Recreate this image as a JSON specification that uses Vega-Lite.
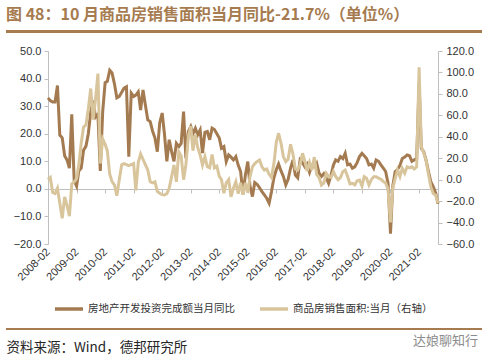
{
  "$schema": "https://vega.github.io/schema/vega-lite/v6.json",
  "width": 390,
  "height": 193,
  "autosize": {"type": "none"},
  "padding": {"left": 48, "top": 51, "right": 52, "bottom": 118},
  "background": "white",
  "title": {
    "text": "图 48：10 月商品房销售面积当月同比-21.7%（单位%）",
    "anchor": "start", "frame": "group", "dx": -42, "offset": 8,
    "font": "Noto Sans CJK SC", "fontSize": 16, "fontWeight": "bold", "color": "#A67B4F"
  },
  "config": {"view": {"stroke": null}, "font": "Liberation Sans"},
  "data": {"values": [
    {"d":"2008-02","a":33,"b":0},{"d":"2008-03","a":32,"b":2},{"d":"2008-04","a":31.5,"b":-12},{"d":"2008-05","a":31.5,"b":-13},
    {"d":"2008-06","a":37.5,"b":-8},{"d":"2008-07","a":19.5,"b":-22},{"d":"2008-08","a":18.5,"b":-36},{"d":"2008-09","a":12,"b":-16},
    {"d":"2008-10","a":10.5,"b":-24},{"d":"2008-11","a":7.5,"b":-34},{"d":"2008-12","a":27,"b":-4},
    {"d":"2009-01","a":3,"b":-2},{"d":"2009-02","a":1,"b":1},{"d":"2009-03","a":6.5,"b":14},{"d":"2009-04","a":7.5,"b":34},
    {"d":"2009-05","a":14,"b":49},{"d":"2009-06","a":15.5,"b":51},{"d":"2009-07","a":20,"b":66},{"d":"2009-08","a":28,"b":85},
    {"d":"2009-09","a":32,"b":56},{"d":"2009-10","a":26,"b":75},{"d":"2009-11","a":27,"b":99},{"d":"2009-12","a":6.5,"b":15},
    {"d":"2010-01","a":28,"b":38},{"d":"2010-02","a":38.5,"b":33},{"d":"2010-03","a":39,"b":27},{"d":"2010-04","a":43,"b":5},
    {"d":"2010-05","a":42,"b":-1.8},{"d":"2010-06","a":38,"b":-5},{"d":"2010-07","a":33,"b":-15},{"d":"2010-08","a":33.5,"b":0},
    {"d":"2010-09","a":35,"b":14},{"d":"2010-10","a":36.5,"b":15},{"d":"2010-11","a":37,"b":14},{"d":"2010-12","a":11.7,"b":13},
    {"d":"2011-01","a":34.7,"b":14},{"d":"2011-02","a":33.5,"b":15},{"d":"2011-03","a":34,"b":-10},{"d":"2011-04","a":35.2,"b":16},
    {"d":"2011-05","a":28.6,"b":24},{"d":"2011-06","a":35.9,"b":19},{"d":"2011-07","a":30.4,"b":14},{"d":"2011-08","a":25,"b":9},
    {"d":"2011-09","a":24.4,"b":-2},{"d":"2011-10","a":21,"b":-3},{"d":"2011-11","a":18.4,"b":-2},{"d":"2011-12","a":13.5,"b":-11},
    {"d":"2012-01","a":24,"b":-12.7},{"d":"2012-02","a":27.5,"b":-14},{"d":"2012-03","a":20,"b":-14.3},{"d":"2012-04","a":10,"b":-13},
    {"d":"2012-05","a":17.8,"b":-8},{"d":"2012-06","a":13.5,"b":2.8},{"d":"2012-07","a":10,"b":13.7},{"d":"2012-08","a":16.5,"b":-2},
    {"d":"2012-09","a":15.3,"b":26},{"d":"2012-10","a":16.5,"b":22},{"d":"2012-11","a":28,"b":0},{"d":"2012-12","a":11,"b":14},
    {"d":"2013-01","a":20.8,"b":40},{"d":"2013-02","a":22.6,"b":50},{"d":"2013-03","a":20,"b":27},{"d":"2013-04","a":22,"b":42},
    {"d":"2013-05","a":19.6,"b":30},{"d":"2013-06","a":21.4,"b":23},{"d":"2013-07","a":13,"b":13.7},{"d":"2013-08","a":20.5,"b":21.5},
    {"d":"2013-09","a":20.8,"b":12},{"d":"2013-10","a":17.8,"b":11},{"d":"2013-11","a":22,"b":23.5},{"d":"2013-12","a":21.5,"b":11},
    {"d":"2014-01","a":20,"b":12.5},{"d":"2014-02","a":18.4,"b":3},{"d":"2014-03","a":14.7,"b":0},{"d":"2014-04","a":15.3,"b":-12.7},
    {"d":"2014-05","a":9.9,"b":-3},{"d":"2014-06","a":12.3,"b":0},{"d":"2014-07","a":11.5,"b":-15.9},{"d":"2014-08","a":10.5,"b":-8},
    {"d":"2014-09","a":11.7,"b":-2},{"d":"2014-10","a":8.6,"b":-13},{"d":"2014-11","a":6.3,"b":-3},{"d":"2014-12","a":-2,"b":-14},
    {"d":"2015-01","a":5,"b":-3},{"d":"2015-02","a":9.9,"b":-12},{"d":"2015-03","a":1,"b":2.8},{"d":"2015-04","a":-2.8,"b":12},
    {"d":"2015-05","a":2.3,"b":15},{"d":"2015-06","a":1.6,"b":17},{"d":"2015-07","a":0.4,"b":18.4},{"d":"2015-08","a":-1,"b":12},
    {"d":"2015-09","a":-2.2,"b":9},{"d":"2015-10","a":-3.4,"b":10},{"d":"2015-11","a":-5.2,"b":5},{"d":"2015-12","a":-1,"b":2},
    {"d":"2016-01","a":4,"b":15},{"d":"2016-02","a":7,"b":35},{"d":"2016-03","a":9,"b":43.3},{"d":"2016-04","a":6.5,"b":34},
    {"d":"2016-05","a":4.5,"b":21.5},{"d":"2016-06","a":1.4,"b":16.8},{"d":"2016-07","a":3.5,"b":19},{"d":"2016-08","a":7.5,"b":33},
    {"d":"2016-09","a":10.5,"b":24},{"d":"2016-10","a":5,"b":10},{"d":"2016-11","a":4,"b":9},{"d":"2016-12","a":10.5,"b":14},
    {"d":"2017-01","a":9.5,"b":24.6},{"d":"2017-02","a":8,"b":17},{"d":"2017-03","a":9,"b":8},{"d":"2017-04","a":6,"b":16},
    {"d":"2017-05","a":8.5,"b":9},{"d":"2017-06","a":8,"b":21},{"d":"2017-07","a":9.3,"b":5},{"d":"2017-08","a":5.7,"b":2},
    {"d":"2017-09","a":4.5,"b":-5},{"d":"2017-10","a":5.5,"b":-3},{"d":"2017-11","a":4,"b":6},{"d":"2017-12","a":2,"b":3},
    {"d":"2018-01","a":5,"b":2},{"d":"2018-02","a":8.7,"b":7.5},{"d":"2018-03","a":10.5,"b":3},{"d":"2018-04","a":10,"b":0},
    {"d":"2018-05","a":11.7,"b":2},{"d":"2018-06","a":11,"b":7.5},{"d":"2018-07","a":12.9,"b":9},{"d":"2018-08","a":8.7,"b":3},
    {"d":"2018-09","a":9,"b":-4},{"d":"2018-10","a":7.5,"b":-3.4},{"d":"2018-11","a":8,"b":-4.8},{"d":"2018-12","a":9.5,"b":-1},
    {"d":"2019-01","a":11.7,"b":-0.3},{"d":"2019-02","a":12.9,"b":-6},{"d":"2019-03","a":12,"b":2.8},{"d":"2019-04","a":11,"b":1.3},
    {"d":"2019-05","a":8.7,"b":-5},{"d":"2019-06","a":9,"b":0},{"d":"2019-07","a":7.5,"b":2.8},{"d":"2019-08","a":10.5,"b":2.8},
    {"d":"2019-09","a":10,"b":1.5},{"d":"2019-10","a":8.7,"b":0.5},{"d":"2019-11","a":7.5,"b":-1.8},{"d":"2019-12","a":6.3,"b":-3},
    {"d":"2020-01","a":2,"b":-9},{"d":"2020-02","a":-16.3,"b":-39.9},{"d":"2020-03","a":1,"b":-8},{"d":"2020-04","a":6.3,"b":1},
    {"d":"2020-05","a":7,"b":9},{"d":"2020-06","a":8.5,"b":3},{"d":"2020-07","a":11,"b":10.6},{"d":"2020-08","a":11.5,"b":6},
    {"d":"2020-09","a":12.3,"b":12},{"d":"2020-10","a":12,"b":11},{"d":"2020-11","a":10,"b":12},{"d":"2020-12","a":10.5,"b":10},
    {"d":"2021-01","a":11,"b":12},{"d":"2021-02","a":38.3,"b":104.9},{"d":"2021-03","a":14.7,"b":31},{"d":"2021-04","a":13.5,"b":25},
    {"d":"2021-05","a":10.4,"b":18},{"d":"2021-06","a":6.3,"b":5},{"d":"2021-07","a":2.6,"b":-6.5},{"d":"2021-08","a":0.8,"b":-13},
    {"d":"2021-09","a":-1.5,"b":-14.5},{"d":"2021-10","a":-5.4,"b":-21.7}
  ]},
  "layer": [
    {
      "mark": {"type": "line", "strokeWidth": 3, "interpolate": "linear"},
      "encoding": {
        "x": {
          "field": "d", "type": "temporal",
          "scale": {"type": "utc", "nice": false, "domain": [{"year": 2008, "month": 2, "date": 1, "utc": true}, {"year": 2021, "month": 10, "date": 1, "utc": true}]},
          "axis": {
            "orient": "bottom", "offset": -55, "labels": false, "title": null, "grid": false,
            "domain": true, "domainColor": "#BFBFBF", "domainWidth": 1,
            "ticks": true, "tickColor": "#BFBFBF", "tickSize": 4,
            "values": [
              {"year": 2008, "month": 2, "date": 1, "utc": true}, {"year": 2009, "month": 2, "date": 1, "utc": true},
              {"year": 2010, "month": 2, "date": 1, "utc": true}, {"year": 2011, "month": 2, "date": 1, "utc": true},
              {"year": 2012, "month": 2, "date": 1, "utc": true}, {"year": 2013, "month": 2, "date": 1, "utc": true},
              {"year": 2014, "month": 2, "date": 1, "utc": true}, {"year": 2015, "month": 2, "date": 1, "utc": true},
              {"year": 2016, "month": 2, "date": 1, "utc": true}, {"year": 2017, "month": 2, "date": 1, "utc": true},
              {"year": 2018, "month": 2, "date": 1, "utc": true}, {"year": 2019, "month": 2, "date": 1, "utc": true},
              {"year": 2020, "month": 2, "date": 1, "utc": true}, {"year": 2021, "month": 2, "date": 1, "utc": true}
            ]
          }
        },
        "y": {
          "field": "a", "type": "quantitative",
          "scale": {"domain": [-20, 50], "nice": false, "zero": false},
          "axis": {
            "orient": "left", "values": [-20, -10, 0, 10, 20, 30, 40, 50], "format": ".1f", "title": null, "grid": false,
            "labelOverlap": false,
            "domainColor": "#BFBFBF", "tickColor": "#BFBFBF", "tickSize": 4,
            "labelFont": "Liberation Sans", "labelFontSize": 11, "labelColor": "#333333", "labelPadding": 3
          }
        },
        "color": {
          "datum": "房地产开发投资完成额当月同比", "type": "nominal",
          "scale": {"domain": ["房地产开发投资完成额当月同比", "商品房销售面积:当月（右轴）"], "range": ["#A47B50", "#D9C59C"]},
          "legend": {
            "orient": "none", "legendX": 5, "legendY": 242, "direction": "horizontal", "title": null,
            "symbolType": "stroke", "symbolSize": 784, "symbolStrokeWidth": 3.5,
            "labelFont": "Noto Sans CJK SC", "labelFontSize": 10.5, "labelColor": "#333333",
            "labelOffset": 3, "columnPadding": 18, "padding": 0
          }
        }
      }
    },
    {
      "mark": {"type": "line", "strokeWidth": 3, "interpolate": "linear"},
      "encoding": {
        "x": {
          "field": "d", "type": "temporal",
          "axis": {
            "orient": "bottom", "offset": 0, "domain": false, "ticks": false, "grid": false,
            "labelAngle": -45, "labelAlign": "right", "labelBaseline": "middle", "labelPadding": 6,
            "format": "%Y-%m", "labelFont": "Liberation Sans", "labelFontSize": 11, "labelColor": "#333333",
            "labelOverlap": false,
            "values": [
              {"year": 2008, "month": 2, "date": 1, "utc": true}, {"year": 2009, "month": 2, "date": 1, "utc": true},
              {"year": 2010, "month": 2, "date": 1, "utc": true}, {"year": 2011, "month": 2, "date": 1, "utc": true},
              {"year": 2012, "month": 2, "date": 1, "utc": true}, {"year": 2013, "month": 2, "date": 1, "utc": true},
              {"year": 2014, "month": 2, "date": 1, "utc": true}, {"year": 2015, "month": 2, "date": 1, "utc": true},
              {"year": 2016, "month": 2, "date": 1, "utc": true}, {"year": 2017, "month": 2, "date": 1, "utc": true},
              {"year": 2018, "month": 2, "date": 1, "utc": true}, {"year": 2019, "month": 2, "date": 1, "utc": true},
              {"year": 2020, "month": 2, "date": 1, "utc": true}, {"year": 2021, "month": 2, "date": 1, "utc": true}
            ],
            "title": "资料来源：Wind，德邦研究所",
            "titleX": -42, "titleY": 103, "titleAlign": "left", "titleBaseline": "middle", "titleAngle": 0,
            "titleFont": "Noto Sans CJK SC", "titleFontSize": 13.5, "titleFontWeight": "normal", "titleColor": "#262626"
          }
        },
        "y": {
          "field": "b", "type": "quantitative",
          "scale": {"domain": [-60, 120], "nice": false, "zero": false},
          "axis": {
            "orient": "right", "values": [-60, -40, -20, 0, 20, 40, 60, 80, 100, 120], "format": ".1f", "grid": false,
            "labelOverlap": false,
            "domainColor": "#BFBFBF", "tickColor": "#BFBFBF", "tickSize": 4,
            "labelFont": "Liberation Sans", "labelFontSize": 11, "labelColor": "#333333", "labelPadding": 4,
            "title": "达娘聊知行", "titleAngle": 0, "titleX": 7, "titleY": 289, "titleAlign": "center", "titleBaseline": "middle",
            "titleFont": "Noto Sans CJK SC", "titleFontSize": 13, "titleFontWeight": "normal", "titleColor": "#8C8C8C"
          }
        },
        "color": {"datum": "商品房销售面积:当月（右轴）", "type": "nominal"}
      }
    },
    {
      "mark": {"type": "rule", "clip": false, "color": "#A67B4F", "strokeWidth": 2},
      "encoding": {
        "x": {"datum": {"year": 2006, "month": 8, "date": 13, "utc": true}, "type": "temporal", "axis": null},
        "x2": {"datum": {"year": 2023, "month": 4, "date": 17, "utc": true}},
        "y": {"datum": 57.0, "type": "quantitative", "scale": {"domain": [-20, 50], "nice": false, "zero": false}, "axis": null}
      }
    },
    {
      "mark": {"type": "rule", "clip": false, "color": "#A67B4F", "strokeWidth": 2},
      "encoding": {
        "x": {"datum": {"year": 2006, "month": 8, "date": 13, "utc": true}, "type": "temporal", "axis": null},
        "x2": {"datum": {"year": 2023, "month": 4, "date": 17, "utc": true}},
        "y": {"datum": -50.8, "type": "quantitative", "scale": {"domain": [-20, 50], "nice": false, "zero": false}, "axis": null}
      }
    }
  ],
  "resolve": {"scale": {"y": "independent"}, "axis": {"x": "independent", "y": "independent"}}
}
